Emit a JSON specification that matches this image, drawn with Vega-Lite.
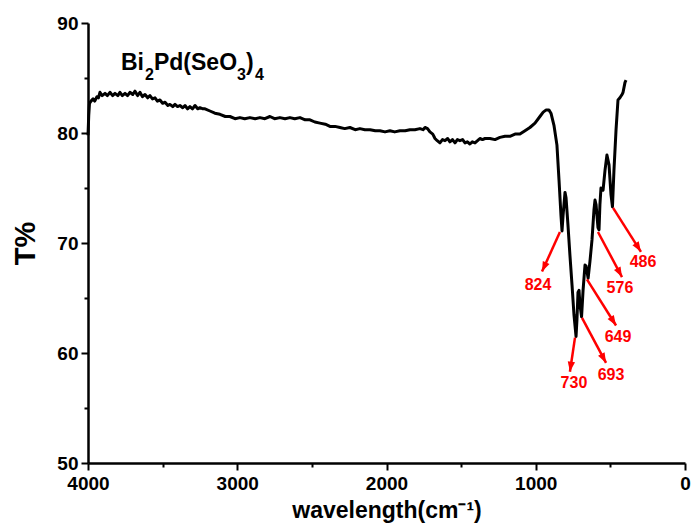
{
  "$schema": "https://vega.github.io/schema/vega-lite/v6.json",
  "width": 597,
  "height": 440,
  "autosize": "none",
  "padding": {"left": 88, "top": 23, "right": 8, "bottom": 67},
  "background": "white",
  "config": {
    "view": {"stroke": null},
    "font": "Liberation Sans",
    "axis": {
      "domainColor": "black", "domainWidth": 2.5, "tickColor": "black", "tickWidth": 2,
      "labelFont": "Liberation Sans", "labelFontWeight": "bold", "labelFontSize": 19, "labelColor": "black",
      "titleFont": "Liberation Sans", "titleFontWeight": "bold", "titleColor": "black", "grid": false
    }
  },
  "datasets": {
    "spectrum": [
      {"wn": 4000, "t": 79.8}, {"wn": 3995, "t": 81.6}, {"wn": 3990, "t": 82.7}, {"wn": 3980, "t": 82.9}, {"wn": 3966, "t": 83.1},
      {"wn": 3955, "t": 82.9}, {"wn": 3940, "t": 83.3}, {"wn": 3930, "t": 83.2}, {"wn": 3920, "t": 83.7}, {"wn": 3905, "t": 83.4}, {"wn": 3886, "t": 83.6},
      {"wn": 3870, "t": 83.4}, {"wn": 3853, "t": 83.7}, {"wn": 3835, "t": 83.4},
      {"wn": 3819, "t": 83.6}, {"wn": 3800, "t": 83.4}, {"wn": 3786, "t": 83.7}, {"wn": 3770, "t": 83.4}, {"wn": 3752, "t": 83.6}, {"wn": 3735, "t": 83.4}, {"wn": 3719, "t": 83.7},
      {"wn": 3700, "t": 83.5}, {"wn": 3685, "t": 83.8}, {"wn": 3668, "t": 83.4}, {"wn": 3652, "t": 83.7}, {"wn": 3635, "t": 83.3}, {"wn": 3618, "t": 83.5}, {"wn": 3600, "t": 83.2}, {"wn": 3585, "t": 83.4},
      {"wn": 3568, "t": 83.1}, {"wn": 3551, "t": 83.2}, {"wn": 3535, "t": 82.9}, {"wn": 3518, "t": 83.0}, {"wn": 3500, "t": 82.7}, {"wn": 3484, "t": 82.8}, {"wn": 3465, "t": 82.5}, {"wn": 3451, "t": 82.6},
      {"wn": 3432, "t": 82.4}, {"wn": 3417, "t": 82.6}, {"wn": 3400, "t": 82.4}, {"wn": 3384, "t": 82.5}, {"wn": 3365, "t": 82.3}, {"wn": 3350, "t": 82.5}, {"wn": 3333, "t": 82.2}, {"wn": 3317, "t": 82.4},
      {"wn": 3300, "t": 82.2}, {"wn": 3283, "t": 82.5}, {"wn": 3265, "t": 82.2}, {"wn": 3250, "t": 82.3}, {"wn": 3230, "t": 82.2}, {"wn": 3216, "t": 82.2}, {"wn": 3183, "t": 82.0},
      {"wn": 3150, "t": 81.8}, {"wn": 3116, "t": 81.7}, {"wn": 3080, "t": 81.5}, {"wn": 3049, "t": 81.5}, {"wn": 3015, "t": 81.3}, {"wn": 2982, "t": 81.4}, {"wn": 2950, "t": 81.3}, {"wn": 2915, "t": 81.4},
      {"wn": 2880, "t": 81.3}, {"wn": 2848, "t": 81.4}, {"wn": 2815, "t": 81.3}, {"wn": 2781, "t": 81.5}, {"wn": 2750, "t": 81.3}, {"wn": 2714, "t": 81.4}, {"wn": 2680, "t": 81.3}, {"wn": 2647, "t": 81.4},
      {"wn": 2615, "t": 81.3}, {"wn": 2580, "t": 81.4}, {"wn": 2545, "t": 81.2}, {"wn": 2513, "t": 81.2}, {"wn": 2480, "t": 81.0}, {"wn": 2446, "t": 80.9}, {"wn": 2410, "t": 80.8}, {"wn": 2379, "t": 80.6},
      {"wn": 2345, "t": 80.6}, {"wn": 2312, "t": 80.5}, {"wn": 2280, "t": 80.4}, {"wn": 2245, "t": 80.5}, {"wn": 2210, "t": 80.3}, {"wn": 2178, "t": 80.4}, {"wn": 2145, "t": 80.3}, {"wn": 2110, "t": 80.3},
      {"wn": 2075, "t": 80.2}, {"wn": 2044, "t": 80.2}, {"wn": 2010, "t": 80.1}, {"wn": 1977, "t": 80.2}, {"wn": 1945, "t": 80.1}, {"wn": 1910, "t": 80.2}, {"wn": 1875, "t": 80.2}, {"wn": 1843, "t": 80.3},
      {"wn": 1810, "t": 80.3}, {"wn": 1776, "t": 80.4}, {"wn": 1755, "t": 80.3}, {"wn": 1742, "t": 80.5}, {"wn": 1725, "t": 80.4}, {"wn": 1709, "t": 80.1}, {"wn": 1690, "t": 79.9}, {"wn": 1675, "t": 79.5},
      {"wn": 1660, "t": 79.3}, {"wn": 1642, "t": 79.1}, {"wn": 1625, "t": 79.4}, {"wn": 1608, "t": 79.3}, {"wn": 1590, "t": 79.5}, {"wn": 1575, "t": 79.2}, {"wn": 1558, "t": 79.4}, {"wn": 1541, "t": 79.1},
      {"wn": 1525, "t": 79.4}, {"wn": 1508, "t": 79.3}, {"wn": 1490, "t": 79.4}, {"wn": 1474, "t": 79.1}, {"wn": 1458, "t": 79.2}, {"wn": 1441, "t": 79.0}, {"wn": 1425, "t": 79.2}, {"wn": 1407, "t": 79.1},
      {"wn": 1390, "t": 79.3}, {"wn": 1374, "t": 79.5}, {"wn": 1357, "t": 79.4}, {"wn": 1340, "t": 79.5}, {"wn": 1307, "t": 79.5}, {"wn": 1273, "t": 79.4},
      {"wn": 1240, "t": 79.6}, {"wn": 1206, "t": 79.7}, {"wn": 1173, "t": 79.7}, {"wn": 1139, "t": 79.9},
      {"wn": 1106, "t": 79.9}, {"wn": 1072, "t": 80.2}, {"wn": 1039, "t": 80.5}, {"wn": 1005, "t": 80.9},
      {"wn": 972, "t": 81.5}, {"wn": 950, "t": 81.9}, {"wn": 930, "t": 82.1}, {"wn": 912, "t": 82.1}, {"wn": 898, "t": 81.8},
      {"wn": 878, "t": 80.7}, {"wn": 858, "t": 78.9}, {"wn": 844, "t": 75.7}, {"wn": 831, "t": 72.5},
      {"wn": 824, "t": 71.1}, {"wn": 817, "t": 72.5}, {"wn": 804, "t": 74.6}, {"wn": 797, "t": 74.1},
      {"wn": 784, "t": 71.6}, {"wn": 771, "t": 68.9}, {"wn": 757, "t": 66.2}, {"wn": 744, "t": 63.5},
      {"wn": 730, "t": 61.5}, {"wn": 724, "t": 63.0}, {"wn": 717, "t": 65.5}, {"wn": 710, "t": 65.7},
      {"wn": 704, "t": 64.4}, {"wn": 693, "t": 63.3}, {"wn": 683, "t": 65.7}, {"wn": 670, "t": 68.0},
      {"wn": 663, "t": 67.9}, {"wn": 649, "t": 66.8}, {"wn": 637, "t": 68.3}, {"wn": 623, "t": 70.3},
      {"wn": 610, "t": 73.0}, {"wn": 603, "t": 73.9}, {"wn": 596, "t": 73.5}, {"wn": 583, "t": 71.4},
      {"wn": 576, "t": 71.2}, {"wn": 570, "t": 73.5}, {"wn": 563, "t": 75.0}, {"wn": 549, "t": 74.8},
      {"wn": 536, "t": 76.6}, {"wn": 523, "t": 78.0}, {"wn": 509, "t": 77.1}, {"wn": 496, "t": 74.4},
      {"wn": 486, "t": 73.3}, {"wn": 476, "t": 76.6}, {"wn": 462, "t": 80.3}, {"wn": 449, "t": 83.0},
      {"wn": 436, "t": 83.2}, {"wn": 422, "t": 83.5}, {"wn": 415, "t": 83.7}, {"wn": 402, "t": 84.6},
      {"wn": 395, "t": 84.8}
    ],
    "arrows": [
      {"label": "824", "x1": 838, "y1": 71.0, "x2": 958, "y2": 67.4, "lx": 985, "ly": 66.2},
      {"label": "730", "x1": 737, "y1": 61.4, "x2": 771, "y2": 58.3, "lx": 744, "ly": 57.3},
      {"label": "693", "x1": 690, "y1": 63.2, "x2": 529, "y2": 59.1, "lx": 496, "ly": 58.0},
      {"label": "649", "x1": 657, "y1": 66.7, "x2": 462, "y2": 62.5, "lx": 449, "ly": 61.5},
      {"label": "576", "x1": 583, "y1": 71.0, "x2": 422, "y2": 66.9, "lx": 436, "ly": 65.9},
      {"label": "486", "x1": 482, "y1": 73.2, "x2": 295, "y2": 69.2, "lx": 281, "ly": 68.3}
    ],
    "titleMain": [
      {"text": "Bi", "x": 3779, "y": 85.73},
      {"text": "Pd(SeO", "x": 3558, "y": 85.73},
      {"text": ")", "x": 2941, "y": 85.73}
    ],
    "titleSub": [
      {"text": "2", "x": 3618, "y": 84.82},
      {"text": "3", "x": 3002, "y": 84.82},
      {"text": "4", "x": 2881, "y": 84.82}
    ]
  },
  "encoding": {},
  "layer": [
    {
      "data": {"name": "spectrum"},
      "mark": {"type": "line", "color": "black", "strokeWidth": 3, "interpolate": "linear", "strokeJoin": "round"},
      "encoding": {
        "x": {"field": "wn", "type": "quantitative",
          "scale": {"domain": [0, 4000], "reverse": true, "nice": false},
          "axis": {
            "values": [0, 500, 1000, 1500, 2000, 2500, 3000, 3500, 4000],
            "labelExpr": "datum.value % 1000 === 0 ? datum.value : ''",
            "tickSize": {"condition": {"test": "datum.value % 1000 === 0", "value": 7}, "value": 4},
            "labelPadding": 4, "labelFlush": false, "labelOverlap": false,
            "title": "wavelength(cm⁻¹)", "titleFontSize": 23, "titlePadding": 6
          }},
        "y": {"field": "t", "type": "quantitative",
          "scale": {"domain": [50, 90], "nice": false, "zero": false},
          "axis": {
            "values": [50, 55, 60, 65, 70, 75, 80, 85, 90],
            "labelExpr": "datum.value % 10 === 0 ? datum.value : ''",
            "tickSize": {"condition": {"test": "datum.value % 10 === 0", "value": 7}, "value": 4},
            "labelPadding": 3, "labelFlush": false, "labelOverlap": false,
            "title": "T%", "titleFontSize": 29, "titlePadding": 16
          }}
      }
    },
    {
      "data": {"name": "arrows"},
      "mark": {"type": "rule", "color": "#ff0000", "strokeWidth": 2.5},
      "encoding": {
        "x": {"field": "x1", "type": "quantitative"},
        "y": {"field": "y1", "type": "quantitative"},
        "x2": {"field": "x2"},
        "y2": {"field": "y2"}
      }
    },
    {
      "data": {"name": "arrows"},
      "transform": [
        {"calculate": "atan2(-(datum.x2 - datum.x1) * 597 / 4000, (datum.y2 - datum.y1) * 11) * 180 / PI", "as": "ang"}
      ],
      "mark": {"type": "point", "shape": "M0,0L-0.55,1.5L0.55,1.5Z", "filled": true, "color": "#ff0000", "opacity": 1, "size": 180},
      "encoding": {
        "x": {"field": "x2", "type": "quantitative"},
        "y": {"field": "y2", "type": "quantitative"},
        "angle": {"field": "ang", "type": "quantitative", "scale": null}
      }
    },
    {
      "data": {"name": "arrows"},
      "mark": {"type": "text", "color": "#ff0000", "fontWeight": "bold", "fontSize": 16, "font": "Liberation Sans", "align": "center", "baseline": "middle"},
      "encoding": {
        "x": {"field": "lx", "type": "quantitative"},
        "y": {"field": "ly", "type": "quantitative"},
        "text": {"field": "label"}
      }
    },
    {
      "data": {"name": "titleMain"},
      "mark": {"type": "text", "color": "black", "fontWeight": "bold", "fontSize": 23, "font": "Liberation Sans", "align": "left", "baseline": "alphabetic"},
      "encoding": {
        "x": {"field": "x", "type": "quantitative"},
        "y": {"field": "y", "type": "quantitative"},
        "text": {"field": "text"}
      }
    },
    {
      "data": {"name": "titleSub"},
      "mark": {"type": "text", "color": "black", "fontWeight": "bold", "fontSize": 16, "font": "Liberation Sans", "align": "left", "baseline": "alphabetic"},
      "encoding": {
        "x": {"field": "x", "type": "quantitative"},
        "y": {"field": "y", "type": "quantitative"},
        "text": {"field": "text"}
      }
    }
  ]
}
